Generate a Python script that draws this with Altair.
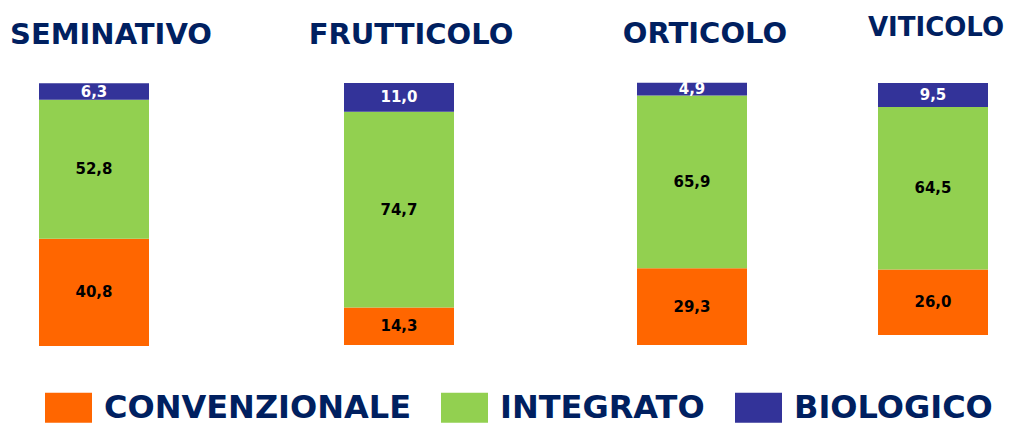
import altair as alt
import pandas as pd

categories = ["SEMINATIVO", "FRUTTICOLO", "ORTICOLO", "VITICOLO"]
types = ["CONVENZIONALE", "INTEGRATO", "BIOLOGICO"]
convenzionale = [40.8, 14.3, 29.3, 26.0]
integrato = [52.8, 74.7, 65.9, 64.5]
biologico = [6.3, 11.0, 4.9, 9.5]

bar_colors = ["#FF6600", "#92D050", "#333399"]
navy = "#002060"

rows = []
for i, c in enumerate(categories):
    for o, (t, vals) in enumerate(zip(types, [convenzionale, integrato, biologico])):
        rows.append({"cat": c, "tipo": t, "value": vals[i], "ord": o})
df = pd.DataFrame(rows)

BAR_W = 110

legend = alt.Legend(
    title=None,
    orient="bottom",
    direction="horizontal",
    offset=32,
    padding=6,
    symbolType="M-1,-0.64H1V0.64H-1Z",
    symbolSize=2209,
    symbolOpacity=1,
    symbolStrokeWidth=0,
    labelFont="DejaVu Sans",
    labelFontWeight="bold",
    labelFontSize=32,
    labelColor=navy,
    labelOffset=12,
    columnPadding=30,
    labelLimit=400,
)


def panel(cat, width, height, tsize, toffset, tdx):
    base = alt.Chart(df).transform_filter(alt.datum.cat == cat)
    pad = (width / BAR_W - 1) / 2
    x = alt.X("cat:N", axis=None,
              scale=alt.Scale(paddingInner=0, paddingOuter=pad, align=0))
    yscale = alt.Scale(domain=[0, 100], nice=False, zero=True)
    bars = base.mark_bar().encode(
        x=x,
        y=alt.Y("value:Q", stack="zero", axis=None, scale=yscale),
        color=alt.Color("tipo:N", sort=types,
                        scale=alt.Scale(domain=types, range=bar_colors),
                        legend=legend),
        order=alt.Order("ord:Q"),
    )
    text = base.transform_stack(
        stack="value", groupby=["cat"], as_=["y0", "y1"], sort=[alt.SortField("ord")]
    ).transform_calculate(
        mid="(datum.y0 + datum.y1) / 2",
        label="replace(format(datum.value, '.1f'), '.', ',')",
    ).mark_text(font="DejaVu Sans", fontWeight="bold", fontSize=15).encode(
        x=x,
        y=alt.Y("mid:Q", axis=None, scale=yscale),
        text="label:N",
        color=alt.condition(alt.datum.tipo == "BIOLOGICO", alt.value("white"), alt.value("black")),
    )
    return alt.layer(bars, text).properties(
        width=width,
        height=height,
        title=alt.Title(
            cat,
            font="DejaVu Sans",
            fontWeight="bold",
            fontSize=tsize,
            color=navy,
            anchor="middle",
            frame="group",
            baseline="alphabetic",
            offset=toffset,
            dx=tdx,
        ),
    )


# panels: bar at the left of each panel; panel spans to the next bar's left edge
p1 = panel("SEMINATIVO", 305, 263, 29, 10, 111 - (39 + 305 / 2))
p2 = panel("FRUTTICOLO", 293, 262, 29, 10, 411 - (344 + 293 / 2))
p3 = panel("ORTICOLO", 241, 262, 29, 10, 705 - (637 + 241 / 2))
p4 = panel("VITICOLO", 110, 252, 26, 21, 936 - (878 + 110 / 2))

chart = alt.hconcat(p1, p2, p3, p4, spacing=0, bounds="flush").configure_view(
    stroke=None
).properties(padding={"left": 2, "top": 7, "right": 5, "bottom": 0})

chart.save("out.html", embed_options={"renderer": "svg", "actions": False})
